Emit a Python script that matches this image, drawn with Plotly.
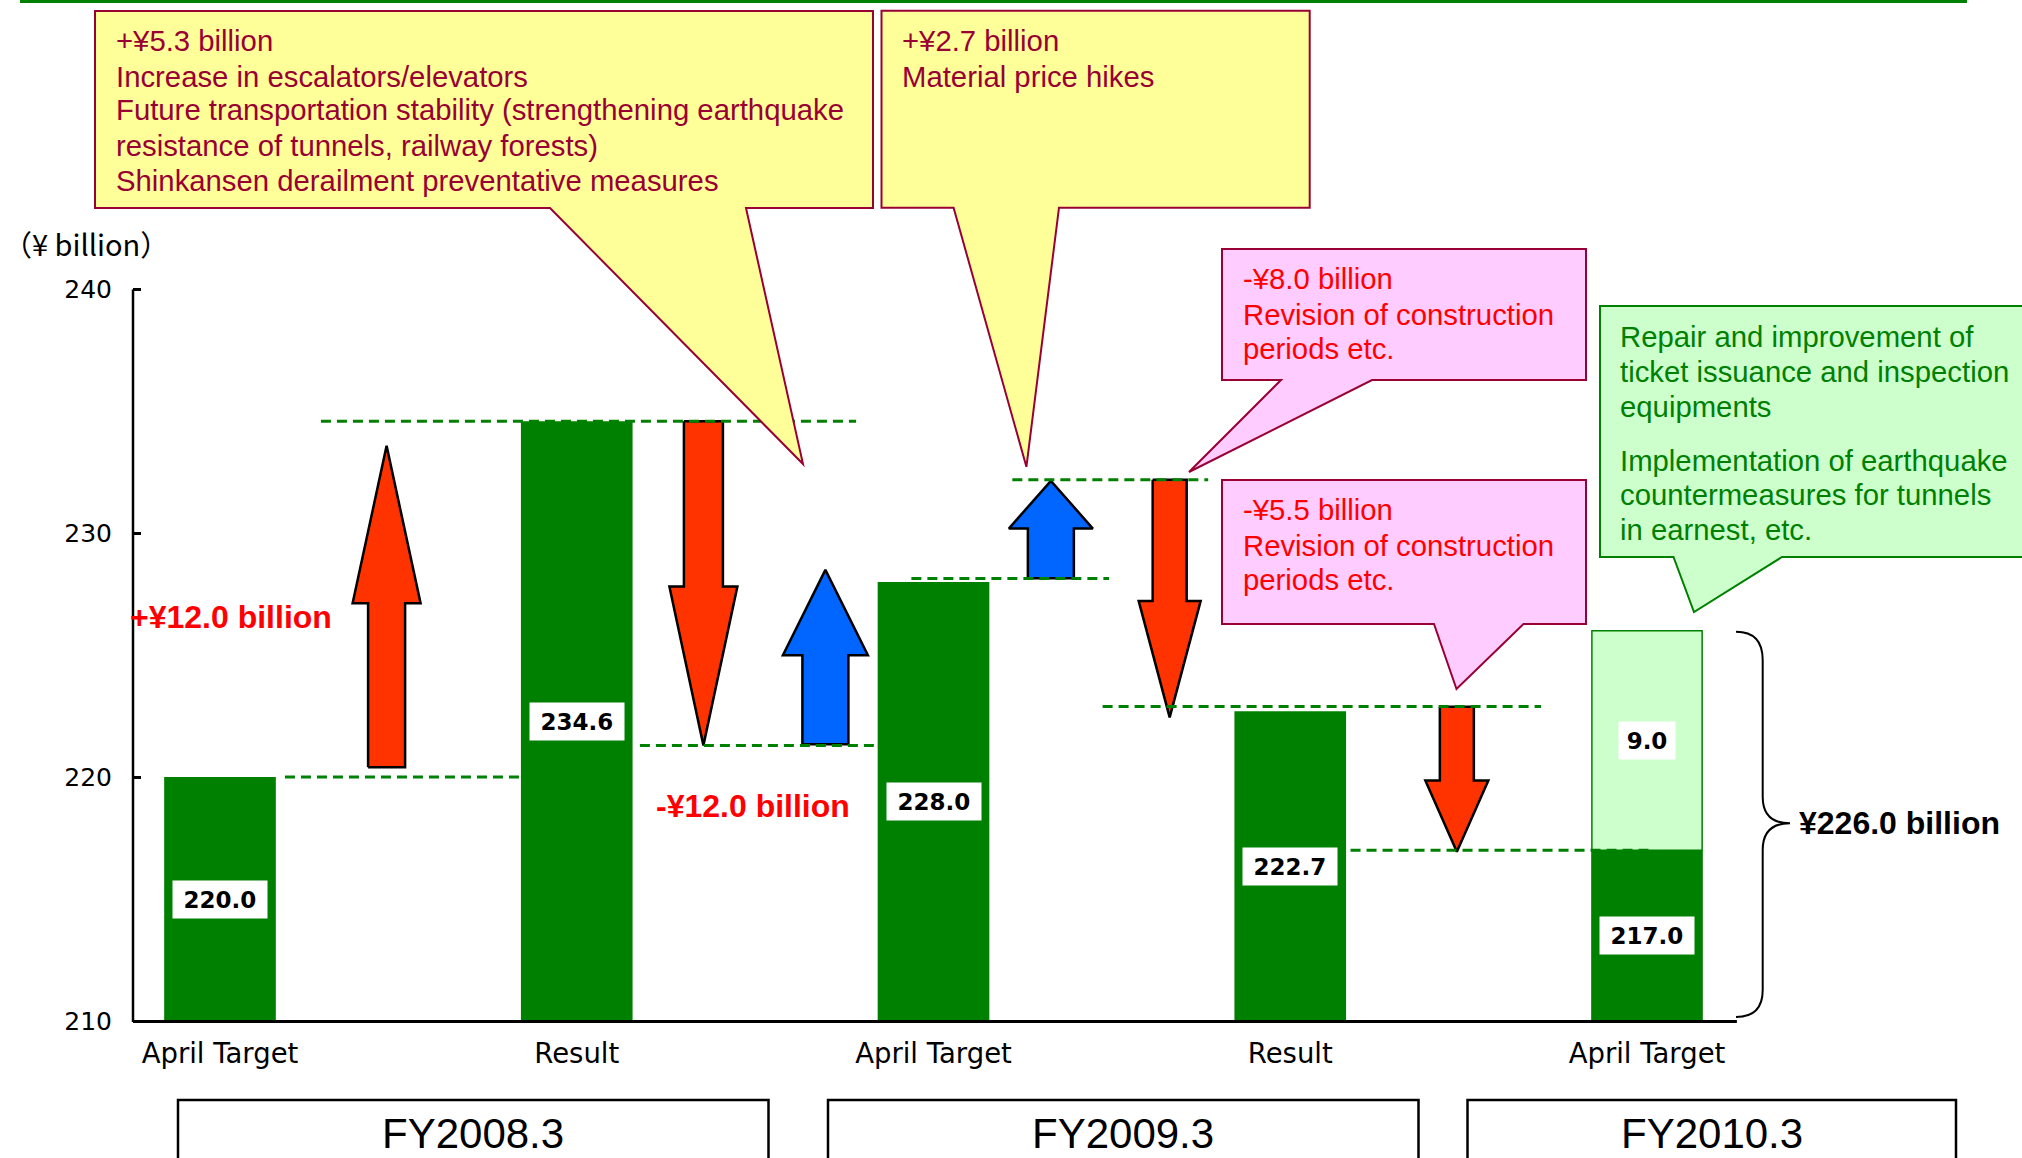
import plotly.graph_objects as go

W, H = 2022, 1158

# ---------------- data ----------------
categories = ["April Target", "Result", "April Target", "Result", "April Target"]
fiscal_years = ["FY2008.3", "FY2009.3", "FY2010.3"]
bar_values = [220.0, 234.6, 228.0, 222.7, 217.0]
addition_value = 9.0
axis_floor = 210.0
y_ticks = [210, 220, 230, 240]

arrow_slot = [0.467, 1.355, 1.697, 2.329, 2.662, 3.467]
arrow_start = [220.4, 234.6, 221.35, 228.16, 232.2, 222.89]
arrow_end = [233.59, 221.3, 228.5, 232.15, 222.45, 216.94]

level_values = [220.0, 234.6, 221.3, 228.15, 232.2, 222.9, 217.0]

change_labels = ["+¥12.0 billion", "-¥12.0 billion"]
total_label = "¥226.0 billion"
unit_label = "（¥ billion）"

callout_texts = [
    ["+¥5.3 billion", "Increase in escalators/elevators",
     "Future transportation stability (strengthening earthquake",
     "resistance of tunnels, railway forests)",
     "Shinkansen derailment preventative measures"],
    ["+¥2.7 billion", "Material price hikes"],
    ["-¥8.0 billion", "Revision of construction", "periods etc."],
    ["-¥5.5 billion", "Revision of construction", "periods etc."],
    ["Repair and improvement of", "ticket issuance and inspection", "equipments",
     "Implementation of earthquake", "countermeasures for tunnels", "in earnest, etc."],
]

# ---------------- layout / style ----------------
ML = 133
X0_PX = 220.0          # pixel of slot 0
PX_PER_SLOT = 356.75
Y240_PX = 289.5
PX_PER_UNIT = 24.38

x_range = [(ML - X0_PX) / PX_PER_SLOT, (W - X0_PX) / PX_PER_SLOT]
floor_px = Y240_PX + (240 - axis_floor) * PX_PER_UNIT
y_dom0 = 1 - floor_px / H
y_range = [axis_floor, 240 + Y240_PX / PX_PER_UNIT]

def PX(px):
    return (px - ML) / (W - ML)

def PY(py):
    return 1 - py / H

def upx(px):  # pixel width -> slot units
    return px / PX_PER_SLOT

SANS = "Liberation Sans, Arial, sans-serif"
GOTH = "DejaVu Sans, Verdana, sans-serif"
DARK_GREEN = "#008000"
BAR_W = 0.313
TXT = 29.3

arrow_colors = ["#FF3300", "#FF3300", "#0066FF", "#0066FF", "#FF3300", "#FF3300"]
arrow_shaft_px = [37, 39, 46, 46, 34, 34]
arrow_head_px = [68, 68, 85, 84, 62, 63]
HEAD_FRAC = 0.49

level_span = [(0.182, 0.841), (0.283, 1.783), (1.177, 1.833), (1.938, 2.492),
              (2.221, 2.770), (2.474, 3.703), (3.169, 4.008)]

fig = go.Figure()

# bars
slots = list(range(len(categories)))
fig.add_trace(go.Bar(
    x=slots, y=[v - axis_floor for v in bar_values], base=axis_floor,
    width=BAR_W, marker=dict(color=DARK_GREEN, line=dict(width=0)),
    hoverinfo="skip"))
fig.add_trace(go.Bar(
    x=[slots[-1]], y=[addition_value], base=bar_values[-1],
    width=BAR_W - 0.004, marker=dict(color="#CCFFCC", line=dict(color=DARK_GREEN, width=1.5)),
    hoverinfo="skip"))

# arrows
for i, c in enumerate(arrow_slot):
    y0, y1 = arrow_start[i], arrow_end[i]
    yb = y1 - HEAD_FRAC * (y1 - y0)
    s = upx(arrow_shaft_px[i]) / 2
    h = upx(arrow_head_px[i]) / 2
    xs = [c - s, c - s, c - h, c, c + h, c + s, c + s, c - s]
    ys = [y0, yb, yb, y1, yb, yb, y0, y0]
    fig.add_trace(go.Scatter(
        x=xs, y=ys, mode="lines", fill="toself", fillcolor=arrow_colors[i],
        line=dict(color="black", width=2.5), hoverinfo="skip"))

# dashed level lines
for lv, (a, b) in zip(level_values, level_span):
    fig.add_trace(go.Scatter(
        x=[a, b], y=[lv, lv], mode="lines",
        line=dict(color=DARK_GREEN, width=3, dash="10px,6px"), hoverinfo="skip"))

shapes = []
annotations = []

# axis lines
shapes.append(dict(type="line", xref="paper", yref="paper", x0=0, x1=0,
                   y0=PY(floor_px + 1), y1=PY(Y240_PX), line=dict(color="black", width=2.5)))
shapes.append(dict(type="line", xref="x", yref="paper", x0=x_range[0], x1=4.252,
                   y0=PY(floor_px + 0.5), y1=PY(floor_px + 0.5), line=dict(color="black", width=3)))

# top green rule
shapes.append(dict(type="line", xref="paper", yref="paper", x0=PX(20), x1=PX(1967),
                   y0=PY(1.5), y1=PY(1.5), line=dict(color=DARK_GREEN, width=3)))

# value labels inside bars
for s_, v in zip(slots, bar_values):
    annotations.append(dict(
        x=s_, y=(axis_floor + v) / 2, xref="x", yref="y", text=f"{v:.1f}",
        showarrow=False, bgcolor="white", borderpad=5, width=84, height=27,
        font=dict(family=GOTH, size=23, color="black", weight="bold")))
annotations.append(dict(
    x=slots[-1], y=bar_values[-1] + addition_value / 2, xref="x", yref="y",
    text=f"{addition_value:.1f}", showarrow=False, bgcolor="white", borderpad=5,
    width=46, height=27, font=dict(family=GOTH, size=23, color="black", weight="bold")))

# change labels
for txt, (cx, cy) in zip(change_labels, [(231, 617), (752.5, 806)]):
    annotations.append(dict(x=PX(cx), y=PY(cy), xref="paper", yref="paper", text=txt,
                            showarrow=False, xanchor="center", yanchor="middle",
                            font=dict(family=SANS, size=32, color="#FF0000", weight="bold")))

# total label and brace
annotations.append(dict(x=PX(1797), y=PY(823), xref="paper", yref="paper", text=total_label,
                        showarrow=False, xanchor="left", yanchor="middle",
                        font=dict(family=SANS, size=32, color="black", weight="bold")))
bx0, bx1, btip = PX(1736), PX(1762.7), PX(1790)
brace = (f"M {bx0},{PY(631.7)} Q {bx1},{PY(631.7)} {bx1},{PY(660)} "
         f"L {bx1},{PY(796.7)} Q {bx1},{PY(823.3)} {btip},{PY(823.3)} "
         f"Q {bx1},{PY(823.3)} {bx1},{PY(850)} L {bx1},{PY(990)} "
         f"Q {bx1},{PY(1017)} {bx0},{PY(1017)}")
shapes.append(dict(type="path", xref="paper", yref="paper", path=brace,
                   line=dict(color="black", width=2)))

# unit label
annotations.append(dict(x=PX(2), y=PY(243), xref="paper", yref="paper", text=unit_label,
                        showarrow=False, xanchor="left", yanchor="middle", borderpad=0,
                        font=dict(family="Noto Sans CJK JP, sans-serif", size=29, color="black")))

# callouts
callout_geo = [
    dict(L=95, T=11, R=873, B=208, t1=550, t2=746, tip=(803, 464), left=114,
         ys=[41, 76, 110, 145, 180], fill="#FFFF99", line="#990033", text="#990033"),
    dict(L=881.5, T=10.7, R=1309.7, B=207.7, t1=953.6, t2=1059, tip=(1026.4, 466.8), left=899.5,
         ys=[41, 76], fill="#FFFF99", line="#990033", text="#990033"),
    dict(L=1222, T=249, R=1586, B=380, t1=1281, t2=1372, tip=(1189, 472), left=1240.5,
         ys=[279, 314.5, 348.5], fill="#FFCCFF", line="#990033", text="#FF0000"),
    dict(L=1222, T=480, R=1586, B=624, t1=1434, t2=1523.5, tip=(1456.5, 689), left=1240.5,
         ys=[509.5, 545, 579.5], fill="#FFCCFF", line="#990033", text="#FF0000"),
    dict(L=1600, T=306, R=2030, B=557, t1=1673.5, t2=1782, tip=(1694, 612), left=1618,
         ys=[336.7, 371.5, 406.5, 460, 495, 530], fill="#CCFFCC", line=DARK_GREEN, text=DARK_GREEN),
]
for g, lines in zip(callout_geo, callout_texts):
    pts = [(g["L"], g["T"]), (g["R"], g["T"]), (g["R"], g["B"]), (g["t2"], g["B"]),
           g["tip"], (g["t1"], g["B"]), (g["L"], g["B"])]
    path = "M " + " L ".join(f"{PX(x)},{PY(y)}" for x, y in pts) + " Z"
    shapes.append(dict(type="path", xref="paper", yref="paper", path=path,
                       fillcolor=g["fill"], line=dict(color=g["line"], width=2)))
    for txt, y in zip(lines, g["ys"]):
        annotations.append(dict(x=PX(g["left"]), y=PY(y), xref="paper", yref="paper", text=txt,
                                showarrow=False, xanchor="left", yanchor="middle",
                                font=dict(family=SANS, size=TXT, color=g["text"])))

# fiscal year boxes
fy_boxes = [(178, 768.5), (828, 1418.5), (1467.5, 1956)]
for fy, (a, b) in zip(fiscal_years, fy_boxes):
    shapes.append(dict(type="rect", xref="paper", yref="paper", x0=PX(a), x1=PX(b),
                       y0=PY(1200), y1=PY(1100), line=dict(color="black", width=2.5),
                       fillcolor="rgba(0,0,0,0)"))
    annotations.append(dict(x=PX((a + b) / 2), y=PY(1133), xref="paper", yref="paper", text=fy,
                            showarrow=False, xanchor="center", yanchor="middle",
                            font=dict(family=SANS, size=42, color="black")))

fig.update_layout(
    template="none",
    width=W, height=H, margin=dict(l=ML, r=0, t=0, b=0, pad=0, autoexpand=False),
    paper_bgcolor="white", plot_bgcolor="white", showlegend=False,
    barmode="overlay", hovermode=False,
    xaxis=dict(range=x_range, domain=[0, 1], showgrid=False, zeroline=False, showline=False,
               automargin=False,
               tickvals=slots, ticktext=categories, ticks="", ticklabelstandoff=14,
               tickfont=dict(family=GOTH, size=27.5, color="black"), fixedrange=True),
    yaxis=dict(range=y_range, domain=[y_dom0, 1], showgrid=False, zeroline=False, showline=False,
               automargin=False,
               tickvals=y_ticks, ticks="inside", ticklen=8, tickwidth=2.5, tickcolor="black",
               ticklabelstandoff=20, tickfont=dict(family=GOTH, size=25, color="black"),
               fixedrange=True),
    shapes=shapes, annotations=annotations,
)

fig.write_html("out.html")
